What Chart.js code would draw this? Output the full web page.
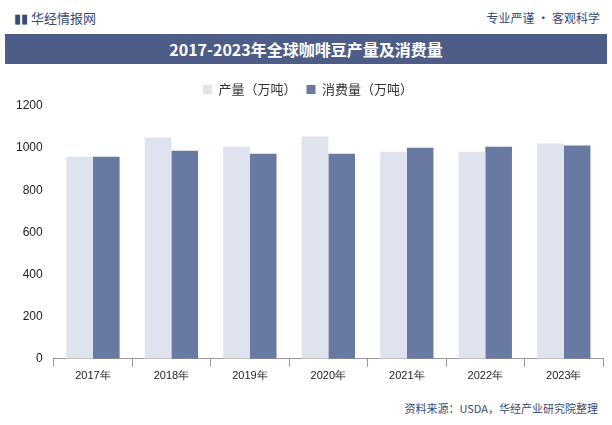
<!DOCTYPE html>
<html><head><meta charset="utf-8">
<script src="https://cdn.jsdelivr.net/npm/chart.js@4"></script>
<style>
body{margin:0;width:612px;height:425px;background:#fff;font-family:"Noto Sans CJK SC",sans-serif;position:relative;overflow:hidden}
#top{position:absolute;left:0;top:0;width:612px;height:32px}
#logo{position:absolute;left:14px;top:8px;font-size:13px;color:#3a4a75}
#slogan{position:absolute;right:12px;top:9px;font-size:12px;color:#3a4a75}
#title{position:absolute;left:5px;top:34px;width:602px;height:30px;background:#4d5d87;color:#fff;font-size:16px;font-weight:bold;text-align:center;line-height:30px}
#wrap{position:absolute;left:5px;top:73px;width:602px;height:313px}
#src{position:absolute;right:14px;top:400px;font-size:11px;color:#3a4a75}
</style></head><body>
<div id="top"><div id="logo">▮▮ 华经情报网</div><div id="slogan">专业严谨 • 客观科学</div></div>
<div id="title">2017-2023年全球咖啡豆产量及消费量</div>
<div id="wrap"><canvas id="c"></canvas></div>
<div id="src">资料来源：USDA，华经产业研究院整理</div>
<script>
const categories=["2017年","2018年","2019年","2020年","2021年","2022年","2023年"];
const production=[959,1051,1007,1055,983,983,1022];
const consumption=[959,988,973,973,1002,1007,1012];
new Chart(document.getElementById('c'),{type:'bar',
data:{labels:categories,datasets:[
{label:'产量（万吨）',data:production,backgroundColor:'#dfe3ee'},
{label:'消费量（万吨）',data:consumption,backgroundColor:'#697aa2'}]},
options:{responsive:true,maintainAspectRatio:false,animation:false,
layout:{padding:{left:8,right:4,bottom:0}},
datasets:{bar:{categoryPercentage:0.68,barPercentage:1}},
plugins:{legend:{labels:{boxWidth:9,boxHeight:9,padding:10,font:{size:13,family:'Noto Sans CJK SC'},color:'#333'}},tooltip:{enabled:false}},
scales:{x:{grid:{drawOnChartArea:false,color:'#999'},ticks:{color:'#222',font:{size:11}},border:{color:'#999'}},
y:{min:0,max:1200,ticks:{stepSize:200,color:'#222',font:{size:12},callback:v=>String(v)},grid:{display:false},border:{display:false}}}}});
</script></body></html>
